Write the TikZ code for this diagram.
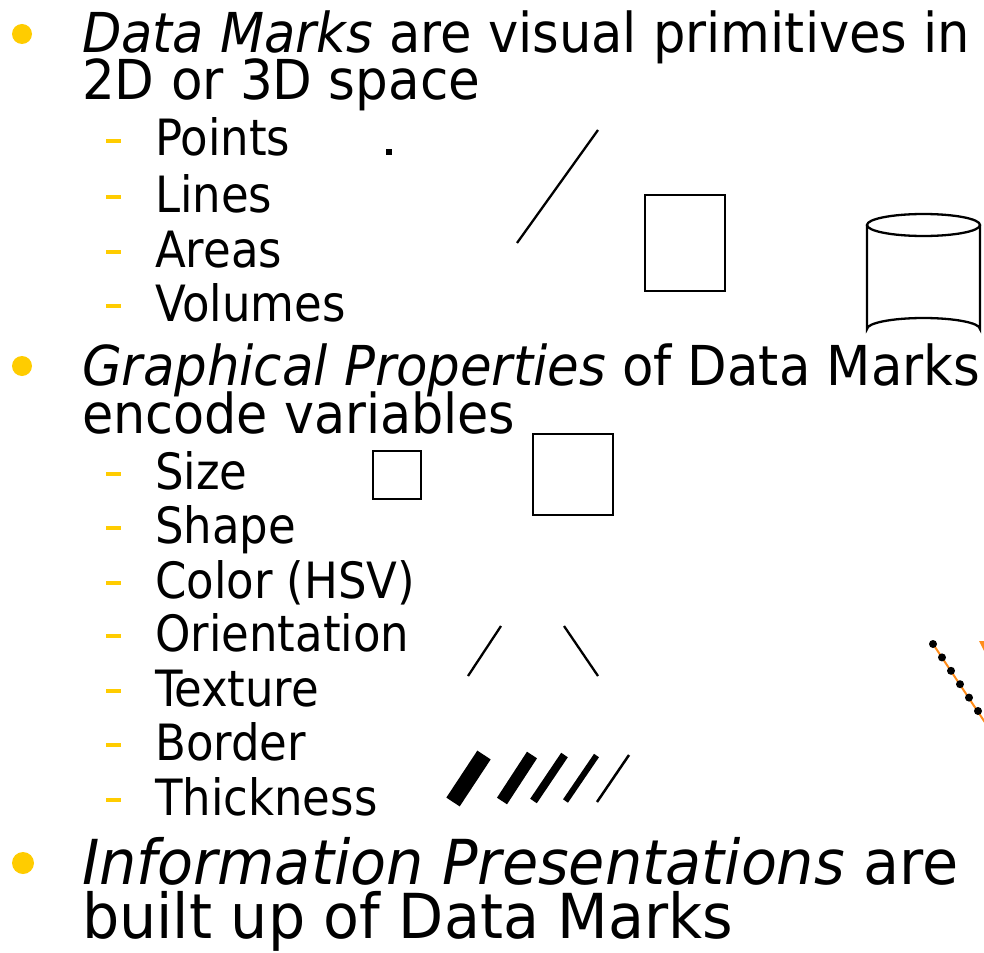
\documentclass[tikz,border=0pt]{standalone}
\usepackage{fontspec}
\setmainfont{DejaVu Sans Condensed}
\begin{document}
\begin{tikzpicture}[x=1pt,y=-1pt,
  main/.style={anchor=base west,inner sep=0pt,font=\fontsize{55}{55}\selectfont},
  big/.style={anchor=base west,inner sep=0pt,font=\fontsize{62}{62}\selectfont},
  sub/.style={anchor=base west,inner sep=0pt,font=\fontsize{50}{50}\selectfont},
  bul/.style={fill=bulletyellow,draw=none},
  dsh/.style={draw=bulletyellow,line width=4pt},
  markline/.style={line width=2.3pt},
]
\definecolor{bulletyellow}{HTML}{FFCC00}
\definecolor{orng}{HTML}{FF8C1A}
\useasboundingbox (0,0) rectangle (984,952);
% bullets
\fill[bul] (22,34) circle (10);
\fill[bul] (22,366) circle (10);
\fill[bul] (23,863) circle (11);
% main texts
\node[main] (t1a) at (82,53) {\scalebox{1.033}[1]{\textit{Data Marks} are visual primitives in}};
\node[main] (t1b) at (82,100) {\scalebox{1.042}[1]{2D or 3D space}};
\node[main] (t2a) at (82,385) {\scalebox{1.038}[1]{\textit{Graphical Properties} of Data Marks}};
\node[main] (t2b) at (82,433) {\scalebox{1.026}[1]{encode variables}};
\node[big] (t3a) at (82,884) {\scalebox{1.055}[1]{\textit{Information Presentations} are}};
\node[big] (t3b) at (82,938) {\scalebox{1.052}[1]{built up of Data Marks}};
% sub items group 1
\foreach \n/\t/\y in {p/Points/156, l/Lines/212, a/Areas/267, v/Volumes/321}{
  \draw[dsh] (106,\y-15) -- (121,\y-15);
  \node[sub] (s\n) at (155,\y) {\t};
}
% sub items group 2
\foreach \n/\t/\y in {si/Size/489, sh/Shape/543, co/Color (HSV)/598, or/Orientation/651, te/Texture/706, bo/Border/760, th/Thickness/815}{
  \draw[dsh] (106,\y-15) -- (121,\y-15);
  \node[sub] (s\n) at (155,\y) {\t};
}
% data marks
\fill (386,149) rectangle (392,155);
\draw[markline] (517,243) -- (598,130);
\draw[markline] (645,195) rectangle (725,291);
% cylinder
\draw[markline] (867,225) -- (867,329) arc[start angle=180,end angle=360,x radius=56.5,y radius=11] -- (980,225);
\draw[markline] (923.5,225) ellipse[x radius=56.5,y radius=11];
% size
\draw[markline] (373,451) rectangle (421,499);
\draw[markline] (533,434) rectangle (613,515);
% orientation
\draw[markline] (501,626) -- (468,676);
\draw[markline] (564,626) -- (598,676);
% thickness
\draw[line width=16pt] (484,755) -- (453,802);
\draw[line width=12pt] (532,755) -- (502,801);
\draw[line width=8pt] (564.5,755) -- (533.5,801);
\draw[line width=6pt] (596.5,755.5) -- (565.5,801);
\draw[line width=2.5pt] (629,755) -- (597,802);
% orange dotted line at right edge
\draw[orng,line width=2pt] (933,644) -- (990,730);
\foreach \i in {0,...,5}{
  \fill ({933+\i*9},{644+\i*13.4}) circle (4);
}
\fill[orng] (979,641) -- (984,641) -- (984,651) -- cycle;
\end{tikzpicture}
\end{document}
